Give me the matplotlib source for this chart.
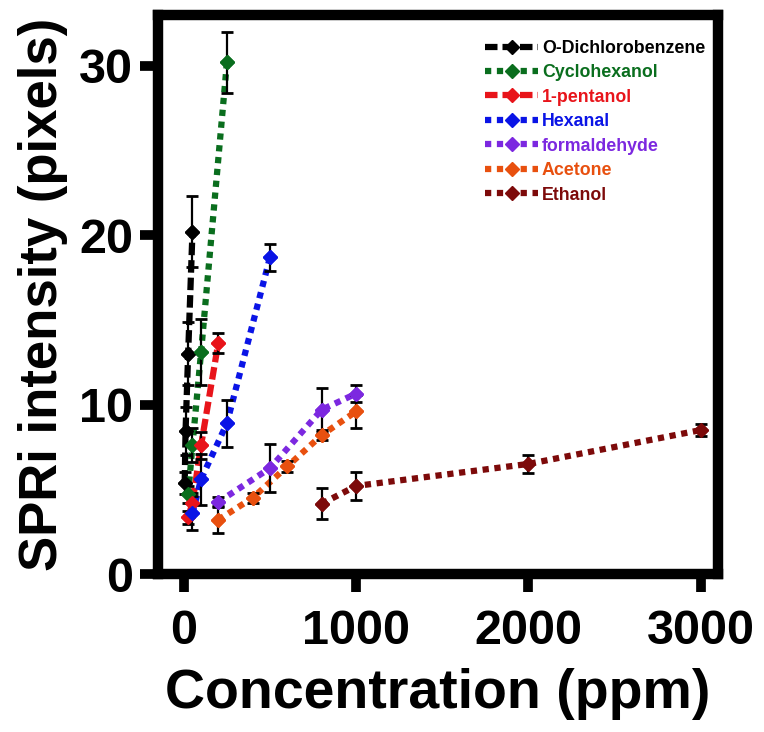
import matplotlib
matplotlib.use("Agg")
import matplotlib.pyplot as plt

plt.rcParams['font.family'] = ['Liberation Sans', 'DejaVu Sans']
plt.rcParams['font.weight'] = 'bold'

names = ["O-Dichlorobenzene", "Cyclohexanol", "1-pentanol", "Hexanal",
         "formaldehyde", "Acetone", "Ethanol"]
colors = ["#000000", "#0a6e1e", "#e8141a", "#0a14e6", "#7c28e0", "#e8500f", "#7d0a0a"]

x_odcb = [5, 10, 25, 50]
y_odcb = [5.4, 8.45, 13.0, 20.2]
e_odcb = [0.65, 1.4, 1.85, 2.1]

x_cyc = [25, 50, 100, 250]
y_cyc = [4.7, 7.6, 13.1, 30.2]
e_cyc = [0.5, 1.0, 1.95, 1.8]

x_pen = [25, 50, 100, 200]
y_pen = [3.35, 4.2, 7.6, 13.65]
e_pen = [0.4, 0.6, 0.8, 0.6]

x_hex = [50, 100, 250, 500]
y_hex = [3.6, 5.6, 8.9, 18.7]
e_hex = [1.0, 1.5, 1.4, 0.8]

x_form = [200, 500, 800, 1000]
y_form = [4.25, 6.25, 9.7, 10.65]
e_form = [0.3, 1.4, 1.3, 0.5]

x_ace = [200, 400, 600, 800, 1000]
y_ace = [3.2, 4.5, 6.35, 8.2, 9.6]
e_ace = [0.8, 0.3, 0.3, 0.3, 0.95]

x_eth = [800, 1000, 2000, 3000]
y_eth = [4.15, 5.2, 6.5, 8.5]
e_eth = [0.9, 0.85, 0.55, 0.33]

xs = [x_odcb, x_cyc, x_pen, x_hex, x_form, x_ace, x_eth]
ys = [y_odcb, y_cyc, y_pen, y_hex, y_form, y_ace, y_eth]
es = [e_odcb, e_cyc, e_pen, e_hex, e_form, e_ace, e_eth]
styles = [(0, (2, 0.8)), (0, (1, 0.9)), (0, (2, 0.8)), (0, (1, 0.9)),
          (0, (1, 0.9)), (0, (1, 0.9)), (0, (1, 0.9))]

xticks = [0, 1000, 2000, 3000]
yticks = [0, 10, 20, 30]

fig = plt.figure(figsize=(7.64, 7.32), dpi=100)
ax = fig.add_axes([0.2068, 0.2158, 0.733, 0.7637])

for x, y, e, c, n, ls in zip(xs, ys, es, colors, names, styles):
    ax.plot(x, y, color=c, linestyle=ls, linewidth=4.5, dash_capstyle='butt',
            marker='D', markersize=7.5, markeredgecolor=c, markerfacecolor=c,
            label=n, zorder=2)
for x, y, e in zip(xs, ys, es):
    ax.errorbar(x, y, yerr=e, fmt='none', ecolor='black', elinewidth=1.6,
                capsize=4, capthick=2, zorder=3)
for x, y, c in zip(xs, ys, colors):
    ax.plot(x, y, linestyle='none', marker='D', markersize=7.5, color=c, zorder=4)

ax.set_xlim(-150, 3100)
ax.set_ylim(0, 33)
ax.set_xticks(xticks)
ax.set_yticks(yticks)
ax.set_xticklabels([str(v) for v in xticks], fontsize=35, fontweight='bold')
ax.set_yticklabels([str(v) for v in yticks], fontsize=35, fontweight='bold')
ax.tick_params(axis='both', direction='out', length=13, width=7, pad=5)
ax.tick_params(axis='x', pad=12)
for s in ax.spines.values():
    s.set_linewidth(7.5)
ax.set_xlabel("Concentration (ppm)", fontsize=40, fontweight='bold', labelpad=10)
ax.set_ylabel("SPRi intensity (pixels)", fontsize=38, fontweight='bold', labelpad=8)

leg = ax.legend(loc='upper right', frameon=False, fontsize=12.8, handlelength=3.0,
                handletextpad=0.2, labelspacing=0.42, borderaxespad=0.3,
                bbox_to_anchor=(0.999, 0.978))
for t, c in zip(leg.get_texts(), colors):
    t.set_color(c)
    t.set_fontweight('bold')

fig.savefig("out.png", dpi=100)
